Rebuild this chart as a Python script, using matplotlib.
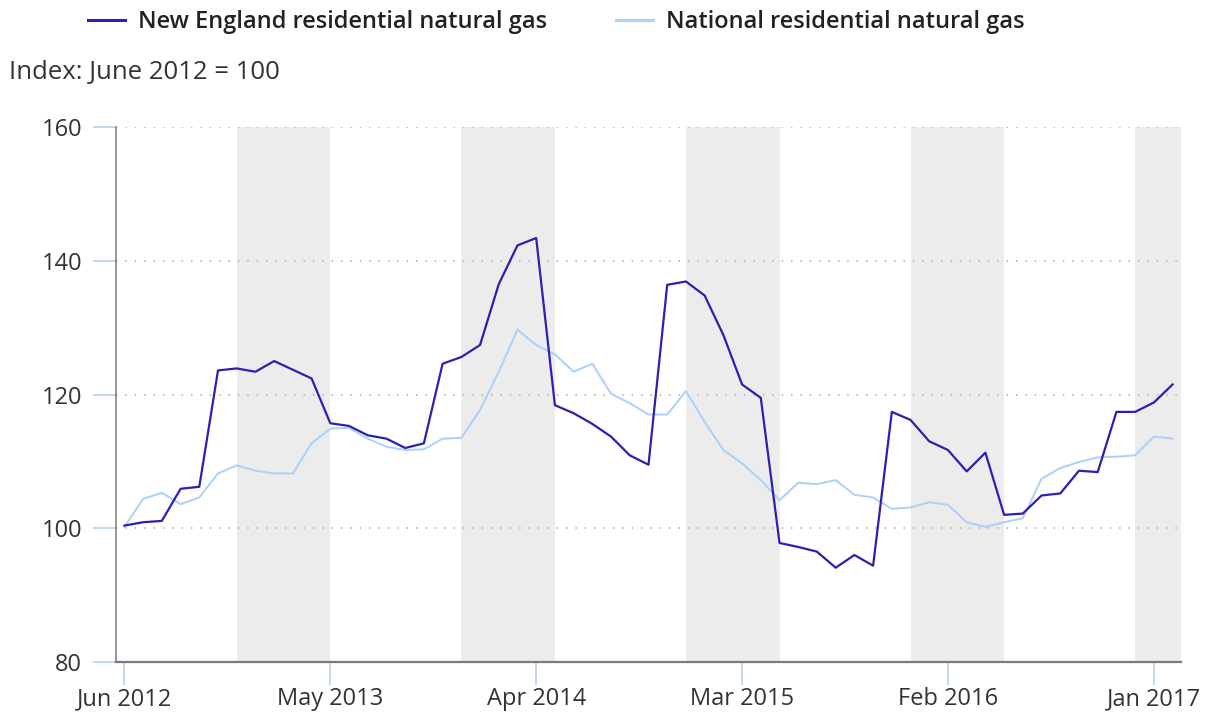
import numpy as np
import pandas as pd
import matplotlib
matplotlib.use("Agg")
import matplotlib.pyplot as plt

plt.rcParams['font.family'] = ['Open Sans', 'DejaVu Sans']

# monthly index, June 2012 = 100
months = pd.date_range("2012-06-01", periods=57, freq="MS")
new_england = [100.4, 100.9, 101.1, 105.9, 106.2, 123.6, 123.9, 123.4, 125.0, 123.7,
               122.4, 115.7, 115.3, 113.9, 113.4, 112.0, 112.7, 124.6, 125.6, 127.4,
               136.5, 142.3, 143.4, 118.4, 117.2, 115.6, 113.7, 110.9, 109.5, 136.4,
               136.9, 134.8, 128.9, 121.5, 119.5, 97.8, 97.2, 96.5, 94.1, 96.0,
               94.4, 117.4, 116.2, 113.0, 111.7, 108.5, 111.3, 102.0, 102.2, 104.9,
               105.2, 108.6, 108.4, 117.4, 117.4, 118.8, 121.5]
national = [100.2, 104.4, 105.3, 103.6, 104.6, 108.2, 109.4, 108.6, 108.2, 108.2,
            112.7, 114.9, 115.0, 113.4, 112.2, 111.7, 111.8, 113.4, 113.5, 117.7,
            123.4, 129.7, 127.4, 126.0, 123.4, 124.6, 120.1, 118.7, 117.0, 117.0,
            120.5, 115.9, 111.7, 109.7, 107.2, 104.2, 106.8, 106.6, 107.2, 105.0,
            104.6, 102.9, 103.1, 103.9, 103.5, 100.9, 100.2, 100.9, 101.5, 107.4,
            109.0, 109.9, 110.6, 110.7, 110.9, 113.7, 113.4]
# winter shading: December through May
shade_starts = ["2012-12", "2013-12", "2014-12", "2015-12", "2016-12"]
shade_len = 5
tick_step = 11
yticks = [80, 100, 120, 140, 160]

x = np.arange(len(months))
month_pos = {m.strftime("%Y-%m"): i for i, m in enumerate(months)}

W, H = 1208, 713
fig = plt.figure(figsize=(W / 100, H / 100), dpi=100)
ax = fig.add_axes([116 / W, 51 / H, (1181 - 116) / W, (662 - 127) / H])

for s in shade_starts:
    i0 = month_pos[s]
    ax.axvspan(i0, i0 + shade_len, color="#ececec", lw=0, zorder=0)

for yv in yticks[1:]:
    ax.axhline(yv, color="#bdbdbd", lw=1.5, linestyle=(0, (0.7, 3.8)), zorder=1)

l1, = ax.plot(x, new_england, color="#2b20b0", lw=1.6, zorder=3,
              label="New England residential natural gas")
l2, = ax.plot(x, national, color="#a9d1fa", lw=1.4, zorder=2,
              label="National residential natural gas")

ax.set_xlim(-0.45, 56.45)
ax.set_ylim(80, 160)
ax.set_yticks(yticks)
ax.set_xticks(x[::tick_step])
ax.set_xticklabels([m.strftime("%b %Y") for m in months[::tick_step]])

for side in ["top", "right"]:
    ax.spines[side].set_visible(False)
ax.spines["left"].set_color("#7a7a7a")
ax.spines["left"].set_linewidth(1.1)
ax.spines["bottom"].set_color("#7a7a7a")
ax.spines["bottom"].set_linewidth(1.6)

ax.tick_params(axis="y", length=16.5, width=1.2, color="#b9d1ec", pad=8,
               labelsize=17, labelcolor="#333333")
ax.tick_params(axis="x", length=16.5, width=1.2, color="#b9d1ec", pad=1.5,
               labelsize=17, labelcolor="#333333")

leg = fig.legend(handles=[l1, l2], loc="center left",
                 bbox_to_anchor=(88 / W, 1 - 22 / H), ncol=2, frameon=False,
                 borderpad=0, borderaxespad=0, handlelength=1.57,
                 handletextpad=0.55, columnspacing=2.9,
                 prop={"size": 17, "weight": "semibold"})
for t in leg.get_texts():
    t.set_color("#222222")
for h in leg.legend_handles:
    h.set_linewidth(2.2)

fig.text(9 / W, 1 - 73 / H, "Index: June 2012 = 100", fontsize=18.5,
         color="#333333", va="center", ha="left")

fig.savefig("out.png", dpi=100)
